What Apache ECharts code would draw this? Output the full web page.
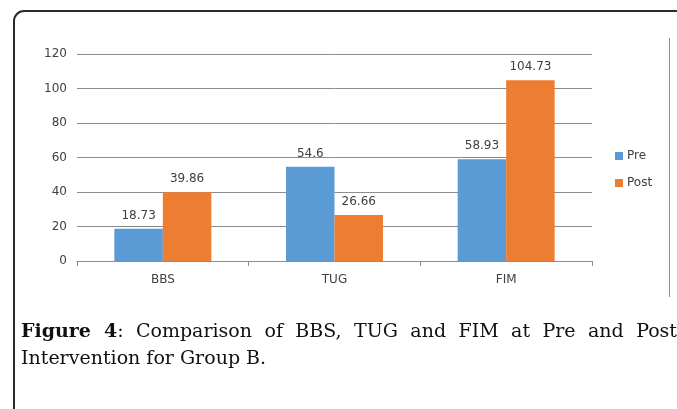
<!DOCTYPE html>
<html>
<head>
<meta charset="utf-8">
<script src="https://cdn.jsdelivr.net/npm/echarts@6/dist/echarts.min.js"></script>
<style>
html,body{margin:0;padding:0;background:#fff;width:677px;height:409px;overflow:hidden;}
#frame{position:absolute;left:13px;top:10px;width:720px;height:460px;border:2px solid #2b2b2b;border-radius:11px;box-sizing:border-box;}
#chart{position:absolute;left:0;top:0;width:677px;height:409px;}
#caption{position:absolute;left:21px;top:317px;width:656px;font-family:"DejaVu Serif","Liberation Serif",serif;font-size:19px;line-height:27px;color:#111;}
#caption .l1{text-align:justify;text-align-last:justify;}
#caption b{font-weight:bold;}
</style>
</head>
<body>
<div id="frame"></div>
<div id="chart"></div>
<div id="caption"><div class="l1"><b>Figure 4</b>: Comparison of BBS, TUG and FIM at Pre and Post</div><div class="l2">Intervention for Group B.</div></div>
<script>
var categories = ["BBS", "TUG", "FIM"];
var preValues = [18.73, 54.6, 58.93];
var postValues = [39.86, 26.66, 104.73];
var seriesNames = ["Pre", "Post"];

var chart = echarts.init(document.getElementById('chart'), null, {renderer: 'canvas'});
var labelFont = {fontFamily: 'DejaVu Sans, sans-serif', fontSize: 12, color: '#404040'};
chart.setOption({
  animation: false,
  grid: {left: 77, right: 85, top: 54, bottom: 148, containLabel: false},
  legend: {
    orient: 'vertical', left: 615, top: 150, padding: 0,
    itemWidth: 8, itemHeight: 8, itemGap: 15,
    icon: 'rect',
    textStyle: {fontFamily: 'DejaVu Sans, sans-serif', fontSize: 12, color: '#404040', padding: [0,0,0,-1]},
    data: seriesNames
  },
  xAxis: {
    type: 'category', data: categories,
    axisLine: {show: true, lineStyle: {color: '#8c8c8c', width: 1}},
    axisTick: {show: true, alignWithLabel: false, length: 5, lineStyle: {color: '#8c8c8c'}},
    axisLabel: Object.assign({margin: 13}, labelFont)
  },
  yAxis: {
    type: 'value', min: 0, max: 120, interval: 20,
    axisLine: {show: false}, axisTick: {show: false},
    splitLine: {lineStyle: {color: '#8c8c8c', width: 1}},
    axisLabel: Object.assign({margin: 10}, labelFont)
  },
  series: [
    {name: seriesNames[0], type: 'bar', data: preValues, barGap: '0%', barCategoryGap: '43.5%',
     itemStyle: {color: '#5B9BD5'},
     label: Object.assign({show: true, position: 'top', distance: 7}, labelFont)},
    {name: seriesNames[1], type: 'bar', data: postValues,
     itemStyle: {color: '#ED7D31'},
     label: Object.assign({show: true, position: 'top', distance: 7}, labelFont)}
  ],
  graphic: [
    {type: 'line', shape: {x1: 669.5, y1: 38, x2: 669.5, y2: 297}, style: {stroke: '#8c8c8c', lineWidth: 1}}
  ]
});
</script>
</body>
</html>
